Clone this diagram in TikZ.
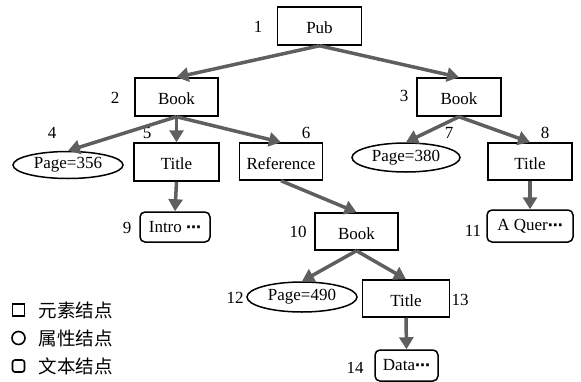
\documentclass[tikz,border=0pt]{standalone}
\usepackage{fontspec}
\setmainfont{Liberation Serif}
\newfontfamily\cjk{Noto Sans CJK SC}
\newfontfamily\dotsfont{DejaVu Sans}
\usepackage{tikz}
\usepackage{xcolor}
\usetikzlibrary{shapes.geometric, arrows.meta, positioning}
\definecolor{arrowgray}{RGB}{95,95,95}
\newcommand{\treefont}{\fontsize{17}{20}\selectfont}
\newcommand{\more}{{\dotsfont\bfseries\fontsize{15}{20}\selectfont ⋯}}
\tikzstyle{element} = [rectangle, minimum width=84pt, minimum height=38pt, inner sep=2pt, text centered, text height=16pt, text depth=1pt, draw=black, line width=1.5pt, font=\treefont]
\tikzstyle{attribute} = [ellipse, minimum width=110pt, minimum height=29pt, inner sep=0pt, text centered, draw=black, line width=1.5pt, font=\treefont]
\tikzstyle{textnode} = [rectangle, rounded corners=5pt, minimum height=31pt, inner sep=2pt, text centered, draw=black, line width=1.5pt, font=\treefont]
\tikzstyle{num} = [inner sep=0pt, font=\treefont]
\tikzstyle{arrow} = [line width=3.5pt, draw=arrowgray, -{Triangle[length=12pt,width=14pt]}]
\tikzstyle{legend} = [inner sep=0pt, font=\cjk\fontsize{18.5}{20}\selectfont, anchor=west]

\begin{document}
\begin{tikzpicture}[x=1pt, y=-1pt]
    \useasboundingbox (0,0) rectangle (581,381);
    % element nodes
    \node (pub) [element] at (319.5,26) {Pub};
    \node (book2) [element, minimum width=83pt] at (176.5,97) {Book};
    \node (book3) [element] at (459,97) {Book};
    \node (title5) [element, minimum width=85pt] at (176.5,162) {Title};
    \node (ref) [element, minimum width=83pt, minimum height=37pt] at (281,161.5) {Reference};
    \node (title8) [element, minimum height=37pt] at (530,161.5) {Title};
    \node (book10) [element, minimum width=83pt, minimum height=37pt] at (356.5,231.5) {Book};
    \node (title13) [element, minimum width=87pt, minimum height=37pt] at (406,298.5) {Title};
    % attribute nodes
    \node (page356) [attribute, minimum height=27pt] at (68,165) {Page=356};
    \node (page380) [attribute, minimum width=108pt] at (406,157.5) {Page=380};
    \node (page490) [attribute, minimum height=30pt] at (302,297) {Page=490};
    % text nodes
    \node (intro) [textnode, minimum width=70pt, minimum height=30pt] at (175,227) {Intro \more};
    \node (aquer) [textnode, minimum width=86pt, minimum height=32pt] at (530,226) {A Quer\more};
    \node (data) [textnode, minimum width=63pt] at (406.5,365.5) {Data\more};
    % numbers
    \node (n1) [num] at (258,27) {1};
    \node (n2) [num] at (115,98) {2};
    \node (n3) [num] at (404,96) {3};
    \node (n4) [num] at (52,133) {4};
    \node (n5) [num] at (147,133) {5};
    \node (n6) [num] at (306,133) {6};
    \node (n7) [num] at (449,133) {7};
    \node (n8) [num] at (545,133) {8};
    \node (n9) [num] at (127,228) {9};
    \node (n10) [num] at (298,232) {10};
    \node (n11) [num] at (473,231) {11};
    \node (n12) [num] at (235,298) {12};
    \node (n13) [num] at (460,300) {13};
    \node (n14) [num] at (355,368) {14};
    % edges
    \draw [arrow] (pub.south) -- (book2.north);
    \draw [arrow] (pub.south) -- (book3.north);
    \draw [arrow] (book2.south) -- (page356.north);
    \draw [arrow] (book2.south) -- (title5.north);
    \draw [arrow] (book2.south) -- (ref.north);
    \draw [arrow] (book3.south) -- (page380.north);
    \draw [arrow] (book3.south) -- (title8.north);
    \draw [arrow] (title5.south) -- (intro.north);
    \draw [arrow] (ref.south) -- (book10.north);
    \draw [arrow] (title8.south) -- (aquer.north);
    \draw [arrow] (book10.south) -- (page490.north);
    \draw [arrow] (book10.south) -- (title13.north);
    \draw [arrow] (title13.south) -- (data.north);
    % legend
    \node (lsq) [rectangle, draw=black, line width=1.6pt, minimum size=12pt, inner sep=0pt] at (18.5,310) {};
    \node (lci) [circle, draw=black, line width=1.6pt, minimum size=13pt, inner sep=0pt] at (18.5,338) {};
    \node (lrs) [rectangle, rounded corners=2.5pt, draw=black, line width=1.6pt, minimum size=12pt, inner sep=0pt] at (18.5,366) {};
    \node (lt1) [legend, right=13pt of lsq] {元素结点};
    \node (lt2) [legend, right=12.5pt of lci] {属性结点};
    \node (lt3) [legend, right=13pt of lrs] {文本结点};
\end{tikzpicture}
\end{document}
